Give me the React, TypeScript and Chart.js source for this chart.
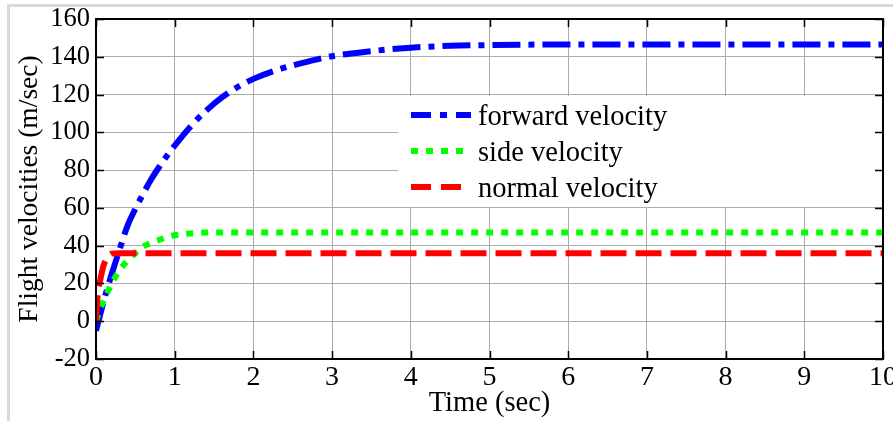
import React, { useEffect, useRef } from "react";
import { Chart, registerables } from "chart.js";

Chart.register(...registerables);

const forwardTime = [0, 0.05, 0.1, 0.2, 0.3, 0.4, 0.5, 0.6, 0.7, 0.8, 0.9, 1.0, 1.2, 1.4, 1.6, 1.8, 2.0, 2.3, 2.6, 3.0, 3.5, 4.0, 4.5, 5.0, 6.0, 7.0, 8.0, 9.0, 10.0];
const forwardVel = [-5, 3, 11, 25, 38, 50.5, 59.5, 67.5, 75, 81.5, 87.5, 93, 103, 111.5, 118.5, 124, 128.3, 133, 136.5, 140.3, 143, 144.8, 145.8, 146.2, 146.5, 146.5, 146.5, 146.5, 146.5];

const sideTime = [0, 0.05, 0.1, 0.2, 0.3, 0.4, 0.5, 0.6, 0.7, 0.8, 0.9, 1.0, 1.2, 1.5, 2.0, 10.0];
const sideVel = [0, 6, 11, 20, 27, 32, 36, 39.5, 41.5, 43, 44.5, 45.5, 46.5, 47, 47, 47];

const normalTime = [0, 0.01, 0.03, 0.05, 0.08, 0.1, 0.15, 0.2, 0.3, 10.0];
const normalVel = [0, 8, 17, 21, 27, 30, 34, 35.8, 36, 36];

const legendLabels = ["forward velocity", "side velocity", "normal velocity"];
const xTicks = [0, 1, 2, 3, 4, 5, 6, 7, 8, 9, 10];
const yTicks = [-20, 0, 20, 40, 60, 80, 100, 120, 140, 160];

const BLUE = "#0000ff";
const GREEN = "#00ff00";
const RED = "#ff0000";
const SERIF = "'Liberation Serif', 'Times New Roman', serif";

const toPts = (t: number[], v: number[]) => t.map((x, i) => ({ x, y: v[i] }));

const matlabPlugin = {
  id: "matlabLook",
  afterDatasetsDraw(chart: any) {
    const { ctx, chartArea: a } = chart;
    ctx.save();
    // legend box (white, no border)
    ctx.fillStyle = "#ffffff";
    ctx.fillRect(398, 96, a.right - 398, 111);
    const rows = [115, 151, 187];
    const colors = [BLUE, GREEN, RED];
    const dashes = [[20, 9, 7, 9], [7, 8], [20, 10]];
    for (let i = 0; i < 3; i++) {
      ctx.beginPath();
      ctx.strokeStyle = colors[i];
      ctx.lineWidth = 6;
      ctx.lineCap = "butt";
      ctx.setLineDash(dashes[i]);
      ctx.moveTo(411, rows[i]);
      ctx.lineTo(471, rows[i]);
      ctx.stroke();
      ctx.setLineDash([]);
      ctx.fillStyle = "#000000";
      ctx.font = `28.5px ${SERIF}`;
      ctx.textAlign = "left";
      ctx.textBaseline = "alphabetic";
      ctx.fillText(legendLabels[i], 478, rows[i] + 9.5);
    }
    ctx.restore();
  },
  afterDraw(chart: any) {
    const { ctx, chartArea: a, scales } = chart;
    const xs = scales.x;
    const ys = scales.y;
    ctx.save();
    ctx.strokeStyle = "#000000";
    ctx.lineWidth = 1.5;
    const tl = 8;
    ctx.beginPath();
    xTicks.forEach((v) => {
      const px = Math.round(xs.getPixelForValue(v)) + 0.5;
      ctx.moveTo(px, a.bottom);
      ctx.lineTo(px, a.bottom - tl);
      ctx.moveTo(px, a.top);
      ctx.lineTo(px, a.top + tl);
    });
    yTicks.forEach((v) => {
      const py = Math.round(ys.getPixelForValue(v)) + 0.5;
      ctx.moveTo(a.left, py);
      ctx.lineTo(a.left + tl, py);
      ctx.moveTo(a.right, py);
      ctx.lineTo(a.right - tl, py);
    });
    ctx.stroke();
    ctx.lineWidth = 2;
    ctx.strokeRect(a.left, a.top, a.right - a.left, a.bottom - a.top);
    ctx.restore();
  },
};

export default function App() {
  const ref = useRef<HTMLCanvasElement | null>(null);

  useEffect(() => {
    if (!ref.current) return;
    const chart = new Chart(ref.current, {
      type: "line",
      data: {
        datasets: [
          {
            label: legendLabels[0],
            data: toPts(forwardTime, forwardVel),
            borderColor: BLUE,
            backgroundColor: BLUE,
            borderWidth: 6,
            borderDash: [28, 8, 6, 8],
            pointRadius: 0,
            cubicInterpolationMode: "monotone",
            order: 3,
          },
          {
            label: legendLabels[1],
            data: toPts(sideTime, sideVel),
            borderColor: GREEN,
            backgroundColor: GREEN,
            borderWidth: 6,
            borderDash: [7, 8],
            pointRadius: 0,
            cubicInterpolationMode: "monotone",
            order: 2,
          },
          {
            label: legendLabels[2],
            data: toPts(normalTime, normalVel),
            borderColor: RED,
            backgroundColor: RED,
            borderWidth: 6,
            borderDash: [26, 9],
            pointRadius: 0,
            cubicInterpolationMode: "monotone",
            order: 1,
          },
        ],
      },
      options: {
        responsive: false,
        animation: false,
        devicePixelRatio: 1,
        layout: { padding: { top: 19, right: 10, left: 0, bottom: 0 } },
        plugins: { legend: { display: false }, tooltip: { enabled: false } },
        scales: {
          x: {
            type: "linear",
            min: 0,
            max: 10,
            afterBuildTicks: (s: any) => {
              s.ticks = xTicks.map((v) => ({ value: v }));
            },
            afterFit: (s: any) => {
              s.height = 62;
              s.paddingLeft = 0;
              s.paddingRight = 0;
            },
            ticks: {
              color: "#000",
              font: { family: SERIF, size: 28 },
              padding: 2,
              maxRotation: 0,
              autoSkip: false,
            },
            grid: { color: "#ababab", lineWidth: 1, drawTicks: false },
            border: { display: false },
            title: {
              display: true,
              text: "Time (sec)",
              color: "#000",
              font: { family: SERIF, size: 28.5 },
              padding: { top: 2, bottom: 0 },
            },
          },
          y: {
            type: "linear",
            min: -20,
            max: 160,
            afterBuildTicks: (s: any) => {
              s.ticks = yTicks.map((v) => ({ value: v }));
            },
            afterFit: (s: any) => {
              s.width = 96;
              s.paddingTop = 0;
              s.paddingBottom = 0;
            },
            ticks: {
              color: "#000",
              font: { family: SERIF, size: 26.5 },
              padding: 6,
              autoSkip: false,
            },
            grid: { color: "#ababab", lineWidth: 1, drawTicks: false },
            border: { display: false },
            title: {
              display: true,
              text: "Flight velocities (m/sec)",
              color: "#000",
              font: { family: SERIF, size: 27.5 },
              padding: { top: 13, bottom: 0 },
            },
          },
        },
      },
      plugins: [matlabPlugin],
    });
    return () => chart.destroy();
  }, []);

  return (
    <div
      style={{
        position: "fixed",
        left: 0,
        top: 0,
        width: 893,
        height: 421,
        background: "#ffffff",
        overflow: "hidden",
      }}
    >
      <canvas ref={ref} width={893} height={421} style={{ display: "block" }} />
      <div
        style={{
          position: "absolute",
          left: 7,
          top: 4,
          right: 0,
          bottom: 0,
          borderTop: "3px solid #d9d9d9",
          borderLeft: "3px solid #d9d9d9",
          pointerEvents: "none",
        }}
      />
    </div>
  );
}
